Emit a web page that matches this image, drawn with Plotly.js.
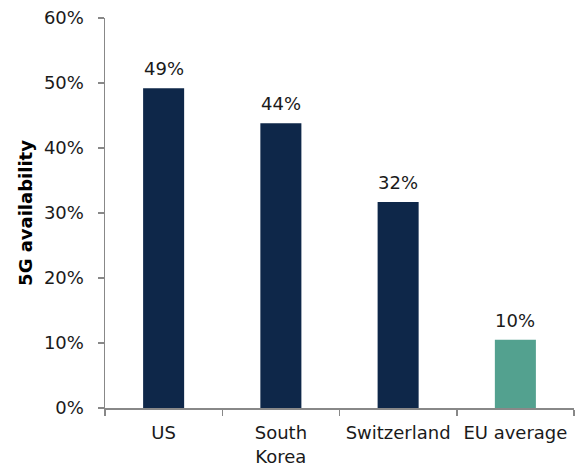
<!DOCTYPE html>
<html>
<head>
<meta charset="utf-8">
<script src="https://cdn.plot.ly/plotly-3.0.1.min.js"></script>
<style>html,body{margin:0;padding:0;background:#fff;}#chart{width:575px;height:468px;}</style>
</head>
<body>
<div id="chart"></div>
<script>
const categories = ["US", "South<br>Korea", "Switzerland", "EU average"];
const availability = [49.2, 43.8, 31.7, 10.5];
const valueLabels = ["49%", "44%", "32%", "10%"];
const barColors = ["#0E2749", "#0E2749", "#0E2749", "#53A18F"];
const yTicks = [0, 10, 20, 30, 40, 50, 60];
const yTickLabels = ["0%", "10%", "20%", "30%", "40%", "50%", "60%"];

const font = "DejaVu Sans, Verdana, sans-serif";

const annotations = categories.map((c, i) => ({
  x: c, y: availability[i], text: valueLabels[i],
  xref: "x", yref: "y", showarrow: false,
  yanchor: "bottom", yshift: 7,
  font: {family: font, size: 18, color: "#1a1a1a"}
}));

Plotly.newPlot("chart", [{
  type: "bar",
  x: categories,
  y: availability,
  marker: {color: barColors, line: {width: 0}},
  width: 0.35,
  hoverinfo: "none"
}], {
  width: 575, height: 468,
  margin: {l: 105, r: 1, t: 18, b: 60},
  paper_bgcolor: "#fff", plot_bgcolor: "#fff",
  showlegend: false,
  font: {family: font, size: 18, color: "#1a1a1a"},
  annotations: annotations,
  xaxis: {
    type: "category",
    range: [-0.5, 3.5],
    tickson: "boundaries",
    ticks: "outside", ticklen: 6, tickcolor: "#888", tickwidth: 1.5,
    showline: true, linecolor: "#888", linewidth: 1.5,
    showgrid: false, zeroline: false,
    ticklabelstandoff: 8,
    tickfont: {family: font, size: 18, color: "#1a1a1a"}
  },
  yaxis: {
    range: [0, 60],
    tickvals: yTicks, ticktext: yTickLabels,
    ticks: "outside", ticklen: 6, tickcolor: "#888", tickwidth: 1.5,
    showline: true, linecolor: "#888", linewidth: 1.5,
    showgrid: false, zeroline: false,
    ticklabelstandoff: 10,
    tickfont: {family: font, size: 18, color: "#1a1a1a"},
    title: {text: "<b>5G availability</b>", font: {family: font, size: 18, color: "#000"}, standoff: 6}
  }
}, {displayModeBar: false, staticPlot: true});
</script>
</body>
</html>
